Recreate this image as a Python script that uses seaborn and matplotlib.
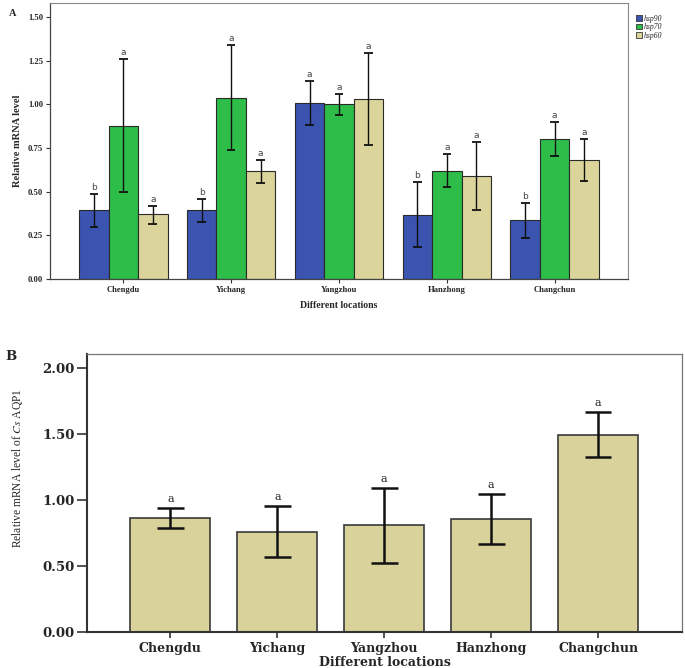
import matplotlib
matplotlib.use("Agg")
import matplotlib.pyplot as plt
import seaborn as sns
import pandas as pd
import numpy as np
from matplotlib.patches import Patch

locations = ["Chengdu", "Yichang", "Yangzhou", "Hanzhong", "Changchun"]
genes = ["hsp90", "hsp70", "hsp60"]

hsp90 = [0.395, 0.395, 1.005, 0.368, 0.336]
hsp90_lo = [0.300, 0.325, 0.880, 0.183, 0.236]
hsp90_hi = [0.485, 0.460, 1.133, 0.555, 0.437]
hsp90_let = ["b", "b", "a", "b", "b"]

hsp70 = [0.877, 1.038, 1.000, 0.620, 0.800]
hsp70_lo = [0.496, 0.737, 0.940, 0.525, 0.702]
hsp70_hi = [1.257, 1.339, 1.061, 0.714, 0.900]
hsp70_let = ["a", "a", "a", "a", "a"]

hsp60 = [0.370, 0.616, 1.030, 0.590, 0.681]
hsp60_lo = [0.317, 0.551, 0.769, 0.393, 0.559]
hsp60_hi = [0.420, 0.679, 1.292, 0.786, 0.800]
hsp60_let = ["a", "a", "a", "a", "a"]

aqp1 = [0.864, 0.760, 0.808, 0.854, 1.495]
aqp1_lo = [0.790, 0.570, 0.525, 0.667, 1.323]
aqp1_hi = [0.940, 0.952, 1.089, 1.043, 1.667]
aqp1_let = ["a", "a", "a", "a", "a"]

yticks_a = [0.00, 0.25, 0.50, 0.75, 1.00, 1.25, 1.50]
yticks_b = [0.00, 0.50, 1.00, 1.50, 2.00]

colors = ["#3a54b0", "#2dbd48", "#dbd49b"]
tan = "#d9d39b"

sns.set_theme(style="white")
plt.rcParams["font.family"] = ["Liberation Serif", "DejaVu Serif"]
plt.rcParams["mathtext.fontset"] = "stix"

fig = plt.figure(figsize=(6.85, 6.68), dpi=100)

# ---------------- Panel A ----------------
axA = fig.add_axes([50 / 685, 1 - 279 / 668, 578 / 685, 276 / 668])
dfA = pd.DataFrame({
    "location": locations * 3,
    "gene": [g for g in genes for _ in locations],
    "value": hsp90 + hsp70 + hsp60,
})
sns.barplot(data=dfA, x="location", y="value", hue="gene", order=locations,
            hue_order=genes, palette=colors, errorbar=None, width=0.82,
            edgecolor="#2a2a2a", linewidth=0.8, ax=axA, legend=False, gap=0,
            saturation=1)

los = [hsp90_lo, hsp70_lo, hsp60_lo]
his = [hsp90_hi, hsp70_hi, hsp60_hi]
lets = [hsp90_let, hsp70_let, hsp60_let]
for cont, lo, hi, lt in zip(axA.containers, los, his, lets):
    for bar, l, h, t in zip(cont, lo, hi, lt):
        xc = bar.get_x() + bar.get_width() / 2
        axA.vlines(xc, l, h, color="#111111", lw=1.0, zorder=5)
        cw = 0.04
        axA.hlines([l, h], xc - cw, xc + cw, color="#111111", lw=1.3, zorder=5)
        axA.text(xc, h + 0.012, t, ha="center", va="bottom", fontsize=6.5,
                 family="DejaVu Sans", color="#444444")

axA.set_xlim(-0.68, 4.68)
axA.set_ylim(0, 1.58)
axA.set_yticks(yticks_a)
axA.set_yticklabels([f"{v:.2f}" for v in yticks_a], fontsize=6.2, fontweight="bold")
axA.set_xticks(range(len(locations)))
axA.set_xticklabels(locations, fontsize=6.2, fontweight="bold")
axA.tick_params(axis="both", length=3, width=0.8, color="#333333", pad=2,
                left=True, bottom=True)
axA.set_xlabel("Different locations", fontsize=7, fontweight="bold", labelpad=5)
axA.set_ylabel("Relative mRNA level", fontsize=7.5, fontweight="bold", labelpad=4)
for s in ["left", "bottom"]:
    axA.spines[s].set_color("#444444")
    axA.spines[s].set_linewidth(0.9)
for s in ["top", "right"]:
    axA.spines[s].set_color("#888888")
    axA.spines[s].set_linewidth(0.8)
fig.text(13 / 685, 1 - 14 / 668, "A", fontsize=7.5, fontweight="bold",
         ha="center", va="center")

handles = [Patch(facecolor=c, edgecolor="#333333", linewidth=0.6) for c in colors]
fig.legend(handles, genes, loc="upper left", bbox_to_anchor=(632 / 685, 1 - 11 / 668),
           frameon=False, handlelength=0.8, handleheight=0.8, handletextpad=0.2,
           labelspacing=0.05, borderpad=0, prop={"style": "italic", "size": 5.5,
                                                  "family": "Liberation Serif"})

# ---------------- Panel B ----------------
axB = fig.add_axes([87 / 685, 1 - 632 / 668, 595 / 685, 278 / 668])
dfB = pd.DataFrame({"location": locations, "value": aqp1})
sns.barplot(data=dfB, x="location", y="value", order=locations, color=tan,
            errorbar=None, width=0.75, edgecolor="#3a3a3a", linewidth=1.2,
            saturation=1, ax=axB)
for bar, l, h, t in zip(axB.containers[0], aqp1_lo, aqp1_hi, aqp1_let):
    xc = bar.get_x() + bar.get_width() / 2
    axB.vlines(xc, l, h, color="#111111", lw=1.8, zorder=5)
    cw = 0.125
    axB.hlines([l, h], xc - cw, xc + cw, color="#111111", lw=1.8, zorder=5)
    axB.text(xc, h + 0.03, t, ha="center", va="bottom", fontsize=8,
             family="DejaVu Serif", color="#222222")

axB.set_xlim(-0.78, 4.785)
axB.set_ylim(0, 2.106)
axB.set_yticks(yticks_b)
axB.set_yticklabels([f"{v:.2f}" for v in yticks_b], fontsize=9.5,
                    fontweight="bold", family="DejaVu Serif")
axB.set_xticks(range(len(locations)))
axB.set_xticklabels(locations, fontsize=9, fontweight="bold", family="DejaVu Serif")
axB.tick_params(axis="y", length=7, width=1.2, color="#333333", pad=2, left=True)
axB.tick_params(axis="x", length=4, width=1.2, color="#333333", pad=3, bottom=True)
axB.set_xlabel("Different locations", fontsize=9, fontweight="bold",
               family="DejaVu Serif", labelpad=1)
axB.set_ylabel("Relative mRNA level of $\\it{Cs}$ AQP1", fontsize=8.3)
axB.yaxis.set_label_coords(-0.104, 0.59)
for s in ["left", "bottom"]:
    axB.spines[s].set_color("#333333")
    axB.spines[s].set_linewidth(1.5)
for s in ["top", "right"]:
    axB.spines[s].set_color("#777777")
    axB.spines[s].set_linewidth(0.9)
fig.text(11 / 685, 1 - 357 / 668, "B", fontsize=9.5, fontweight="bold",
         family="DejaVu Serif", ha="center", va="center")

fig.savefig("out.png", dpi=100)
